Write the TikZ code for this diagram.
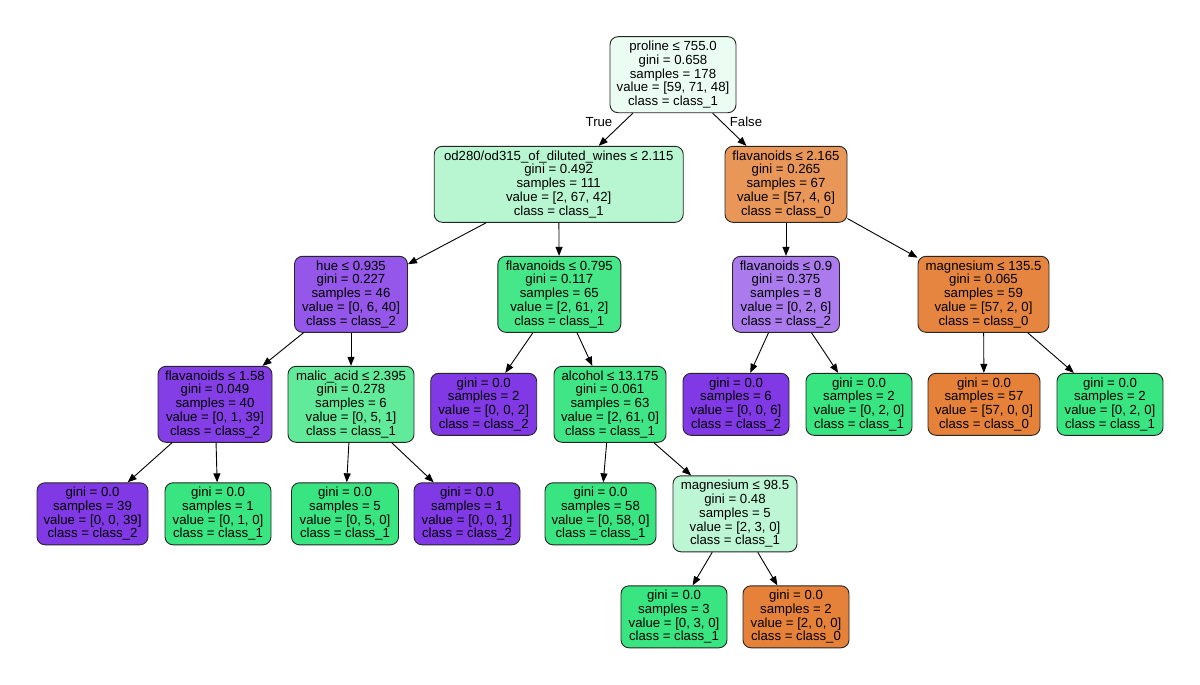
\documentclass[tikz,border=0pt]{standalone}
\usepackage{fontspec}
\setmainfont{Liberation Sans}
\usetikzlibrary{arrows.meta}
\definecolor{croot}{RGB}{235,252,242}
\definecolor{cod}{RGB}{183,246,209}
\definecolor{cfltwo}{RGB}{233,150,89}
\definecolor{chue}{RGB}{148,87,233}
\definecolor{cflsev}{RGB}{70,231,137}
\definecolor{cflnine}{RGB}{171,123,238}
\definecolor{cmgone}{RGB}{230,133,64}
\definecolor{cflone}{RGB}{132,62,230}
\definecolor{cmalic}{RGB}{97,234,154}
\definecolor{calc}{RGB}{64,230,133}
\definecolor{cmgnine}{RGB}{189,246,213}
\definecolor{clszero}{RGB}{229,129,57}
\definecolor{clsone}{RGB}{57,229,129}
\definecolor{clstwo}{RGB}{129,57,229}
\begin{document}
\begin{tikzpicture}[x=1pt,y=-1pt,
  every node/.style={font=\fontsize{13.2}{13.8}\selectfont},
  box/.style={draw=black!85, line width=0.9pt, rounded corners=8pt, align=center, inner sep=0pt, minimum height=76pt},
  leafbox/.style={box, minimum height=62pt},
  edge/.style={draw=black, line width=0.9pt, -{Triangle[length=9pt,width=7pt]}},
  lbl/.style={inner sep=0pt}]
\fill[white] (0,0) rectangle (1200,685);
\useasboundingbox (0,0) rectangle (1200,685);
% level 1
\node[box, fill=croot, minimum width=126pt] (n0) at (673,74.7) {proline ≤ 755.0\\gini = 0.658\\samples = 178\\value = [59, 71, 48]\\class = class\_1};
% level 2
\node[box, fill=cod, minimum width=249pt] (n1) at (558.7,184.3) {od280/od315\_of\_diluted\_wines ≤ 2.115\\gini = 0.492\\samples = 111\\value = [2, 67, 42]\\class = class\_1};
\node[box, fill=cfltwo, minimum width=122pt] (n2) at (786,184.3) {flavanoids ≤ 2.165\\gini = 0.265\\samples = 67\\value = [57, 4, 6]\\class = class\_0};
% level 3
\node[box, fill=chue, minimum width=113pt] (n3) at (351,294.3) {hue ≤ 0.935\\gini = 0.227\\samples = 46\\value = [0, 6, 40]\\class = class\_2};
\node[box, fill=cflsev, minimum width=123pt] (n4) at (559.3,294.3) {flavanoids ≤ 0.795\\gini = 0.117\\samples = 65\\value = [2, 61, 2]\\class = class\_1};
\node[box, fill=cflnine, minimum width=107pt] (n5) at (786,294.3) {flavanoids ≤ 0.9\\gini = 0.375\\samples = 8\\value = [0, 2, 6]\\class = class\_2};
\node[box, fill=cmgone, minimum width=131pt] (n6) at (983.5,294.3) {magnesium ≤ 135.5\\gini = 0.065\\samples = 59\\value = [57, 2, 0]\\class = class\_0};
% level 4
\node[box, fill=cflone, minimum width=114pt] (n7) at (215,404.3) {flavanoids ≤ 1.58\\gini = 0.049\\samples = 40\\value = [0, 1, 39]\\class = class\_2};
\node[box, fill=cmalic, minimum width=126pt] (n8) at (351,404.3) {malic\_acid ≤ 2.395\\gini = 0.278\\samples = 6\\value = [0, 5, 1]\\class = class\_1};
\node[leafbox, fill=clstwo, minimum width=106pt] (n9) at (483.7,404.3) {gini = 0.0\\samples = 2\\value = [0, 0, 2]\\class = class\_2};
\node[box, fill=calc, minimum width=112pt] (n10) at (610,404.3) {alcohol ≤ 13.175\\gini = 0.061\\samples = 63\\value = [2, 61, 0]\\class = class\_1};
\node[leafbox, fill=clstwo, minimum width=106pt] (n11) at (736,404.3) {gini = 0.0\\samples = 6\\value = [0, 0, 6]\\class = class\_2};
\node[leafbox, fill=clsone, minimum width=106pt] (n12) at (859,404.3) {gini = 0.0\\samples = 2\\value = [0, 2, 0]\\class = class\_1};
\node[leafbox, fill=clszero, minimum width=112pt] (n13) at (984,404.3) {gini = 0.0\\samples = 57\\value = [57, 0, 0]\\class = class\_0};
\node[leafbox, fill=clsone, minimum width=106pt] (n14) at (1110,404.3) {gini = 0.0\\samples = 2\\value = [0, 2, 0]\\class = class\_1};
% level 5
\node[leafbox, fill=clstwo, minimum width=111pt] (n15) at (92.5,513.8) {gini = 0.0\\samples = 39\\value = [0, 0, 39]\\class = class\_2};
\node[leafbox, fill=clsone, minimum width=106pt] (n16) at (218,513.8) {gini = 0.0\\samples = 1\\value = [0, 1, 0]\\class = class\_1};
\node[leafbox, fill=clsone, minimum width=107pt] (n17) at (345,513.8) {gini = 0.0\\samples = 5\\value = [0, 5, 0]\\class = class\_1};
\node[leafbox, fill=clstwo, minimum width=106pt] (n18) at (467,513.8) {gini = 0.0\\samples = 1\\value = [0, 0, 1]\\class = class\_2};
\node[leafbox, fill=clsone, minimum width=111pt] (n19) at (600.5,513.8) {gini = 0.0\\samples = 58\\value = [0, 58, 0]\\class = class\_1};
\node[box, fill=cmgnine, minimum width=124pt] (n20) at (735,513.8) {magnesium ≤ 98.5\\gini = 0.48\\samples = 5\\value = [2, 3, 0]\\class = class\_1};
% level 6
\node[leafbox, fill=clsone, minimum width=106pt] (n21) at (674,616.8) {gini = 0.0\\samples = 3\\value = [0, 3, 0]\\class = class\_1};
\node[leafbox, fill=clszero, minimum width=106pt] (n22) at (796,616.8) {gini = 0.0\\samples = 2\\value = [2, 0, 0]\\class = class\_0};
% edges
\draw[edge] (n0) -- (n1);
\draw[edge] (n0) -- (n2);
\draw[edge] (n1) -- (n3);
\draw[edge] (n1) -- (n4);
\draw[edge] (n2) -- (n5);
\draw[edge] (n2) -- (n6);
\draw[edge] (n3) -- (n7);
\draw[edge] (n3) -- (n8);
\draw[edge] (n4) -- (n9);
\draw[edge] (n4) -- (n10);
\draw[edge] (n5) -- (n11);
\draw[edge] (n5) -- (n12);
\draw[edge] (n6) -- (n13);
\draw[edge] (n6) -- (n14);
\draw[edge] (n7) -- (n15);
\draw[edge] (n7) -- (n16);
\draw[edge] (n8) -- (n17);
\draw[edge] (n8) -- (n18);
\draw[edge] (n10) -- (n19);
\draw[edge] (n10) -- (n20);
\draw[edge] (n20) -- (n21);
\draw[edge] (n20) -- (n22);
% edge labels
\node[lbl] (ltrue) at (599,122) {True};
\node[lbl] (lfalse) at (746,122) {False};
\end{tikzpicture}
\end{document}
